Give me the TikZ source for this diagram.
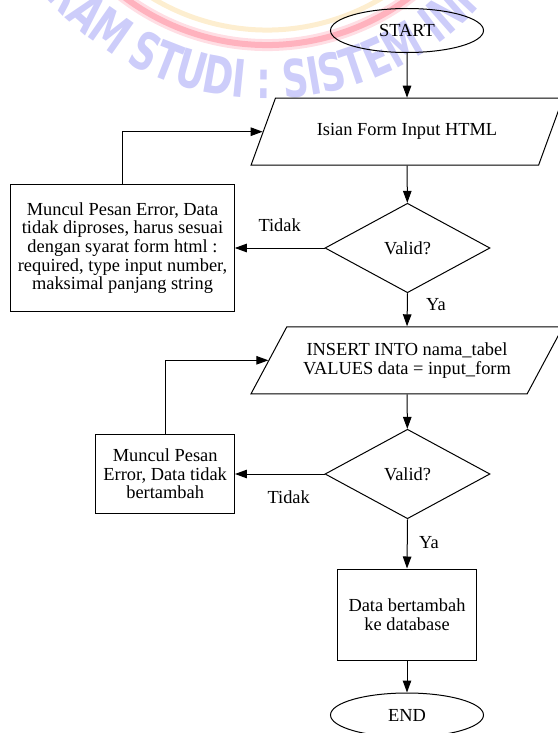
\documentclass[tikz,border=0pt]{standalone}
\usepackage{fontspec}
\setmainfont{Liberation Serif}
\newfontfamily\wmfont[FakeStretch=0.7]{DejaVu Sans}
\usetikzlibrary{arrows.meta}
\usetikzlibrary{shapes.geometric}
\usetikzlibrary{decorations.text}
\tikzset{every node/.style = {font=\fontsize{18.4}{18.6}\selectfont},
         flow/.style = {line width=1pt, -{Triangle[length=12pt, width=8.5pt]}},
         terminal/.style = {draw, line width=1pt, ellipse, minimum width=153pt,
                            minimum height=44pt, inner sep=0pt},
         io/.style = {draw, line width=1pt, trapezium, trapezium left angle=52.7,
                      trapezium right angle=127.3, trapezium stretches=true,
                      minimum width=312.5pt, minimum height=67pt, align=center},
         decision/.style = {draw, line width=1pt, diamond, minimum width=165pt,
                            minimum height=89.5pt, inner sep=0pt},
         process/.style = {draw, line width=1pt, rectangle, align=center, inner sep=0pt}}
\definecolor{wmblue}{RGB}{205, 205, 250}
\definecolor{wmpink}{RGB}{255, 178, 190}
\definecolor{wmpinklight}{RGB}{255, 222, 228}
\definecolor{wmyellow}{RGB}{253, 238, 208}
\newcommand{\wmstyle}{\wmfont\bfseries\fontsize{52}{52}\selectfont\color{wmblue}}

\begin{document}
\begin{tikzpicture}[x=1pt, y=1pt]
  \useasboundingbox (0, 0) rectangle (557, -733);
  \draw [wmpinklight, line width=12pt] (267, 192) ++(200:237) arc [start angle=200, end angle=340, radius=237];
  \draw [wmpink, line width=6pt] (267, 192) ++(200:237) arc [start angle=200, end angle=340, radius=237];
  \draw [wmyellow, line width=5pt] (267, 192) ++(200:222) arc [start angle=200, end angle=340, radius=222];
  \path [decorate, decoration={text along path, text align=center,
         text={|\wmstyle|PROGRAM STUDI : SISTEM INFORMASI}}]
        (267, 192) ++(184.5:291) arc [start angle=184.5, end angle=364.5, radius=291];

  \node [terminal] (start) at (407, -30.5) {START};
  \node [io] (form) at (407, -131.7) {Isian Form Input HTML};
  \node [decision] (valid1) at (407.5, -248) {Valid?};
  \node [process, minimum width=223.6pt, minimum height=127.7pt] (error1) at (122.5, -248)
        {Muncul Pesan Error, Data\\ tidak diproses, harus sesuai\\ dengan syarat form html :\\
         required, type input number,\\ maksimal panjang string};
  \node [io] (insert) at (407, -360.3) {INSERT INTO nama\_tabel\\ VALUES data = input\_form};
  \node [decision] (valid2) at (407.5, -474) {Valid?};
  \node [process, minimum width=138.5pt, minimum height=79pt] (error2) at (165.2, -474)
        {Muncul Pesan\\ Error, Data tidak\\ bertambah};
  \node [process, minimum width=138.3pt, minimum height=91pt] (save) at (407, -614.5)
        {Data bertambah\\ ke database};
  \node [terminal] (end) at (407, -715) {END};

  \draw [flow] (start) -- (form);
  \draw [flow] (form) -- (valid1);
  \draw [flow] (valid1.west) -- (error1.east) node [midway, above=12.4pt] (tidak1) {Tidak};
  \draw [flow] (error1.north) |- (form.west);
  \draw [flow] (valid1.south) -- (insert.north) node [pos=0.33, right=15pt] (ya1) {Ya};
  \draw [flow] (insert) -- (valid2);
  \draw [flow] (valid2.west) -- (error2.east) node [pos=0.4, below=13pt] (tidak2) {Tidak};
  \draw [flow] (error2.north) |- (insert.west);
  \draw [flow] (valid2.south) -- (save.north) node [pos=0.48, right=8pt] (ya2) {Ya};
  \draw [flow] (save) -- (end);
\end{tikzpicture}
\end{document}
